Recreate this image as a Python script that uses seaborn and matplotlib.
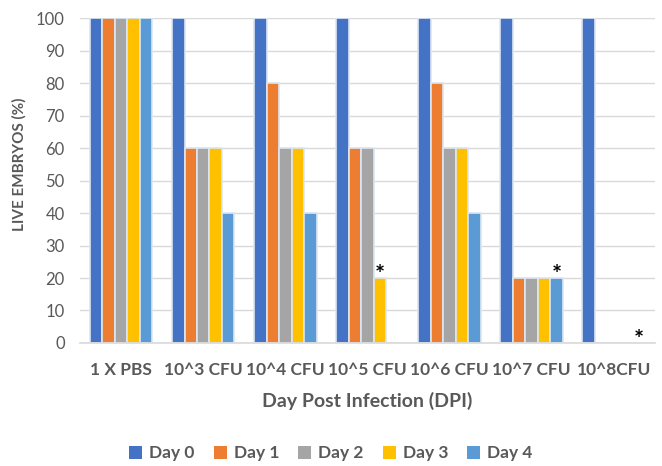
import matplotlib
matplotlib.use("Agg")
import matplotlib.pyplot as plt
import seaborn as sns
import pandas as pd

groups = ["1 X PBS", "10^3 CFU", "10^4 CFU", "10^5 CFU", "10^6 CFU", "10^7 CFU", "10^8CFU"]
days = ["Day 0", "Day 1", "Day 2", "Day 3", "Day 4"]
day0 = [100, 100, 100, 100, 100, 100, 100]
day1 = [100, 60, 80, 60, 80, 20, 0]
day2 = [100, 60, 60, 60, 60, 20, 0]
day3 = [100, 60, 60, 20, 60, 20, 0]
day4 = [100, 40, 40, 0, 40, 20, 0]
# significance marks: (group, day, height of mark)
stars = [("10^5 CFU", "Day 3", 20), ("10^7 CFU", "Day 4", 20), ("10^8CFU", "Day 4", 0)]

colors = ["#4472C4", "#ED7D31", "#A5A5A5", "#FFC000", "#5B9BD5"]

rows = []
for d, vals in zip(days, [day0, day1, day2, day3, day4]):
    for g, v in zip(groups, vals):
        rows.append({"group": g, "day": d, "value": v})
df = pd.DataFrame(rows)

sns.set_theme(style="white")
plt.rcParams["font.family"] = ["Lato", "DejaVu Sans"]
text_color = "#595959"

fig = plt.figure(figsize=(6.62, 4.66), dpi=100)
ax = fig.add_axes([0.121, 0.264, 0.868, 0.697])

sns.barplot(data=df, x="group", y="value", hue="day", order=groups, hue_order=days,
            palette=colors, width=0.76, saturation=1, ax=ax, legend=True,
            edgecolor="#dce6f2", linewidth=1.2)

ax.set_ylim(0, 100)
ax.set_xlim(-0.5, len(groups) - 0.5)
ax.set_yticks(range(0, 101, 10))
ax.yaxis.grid(True, color="#D9D9D9", linewidth=1)
ax.set_axisbelow(True)
for s in ["top", "right", "left"]:
    ax.spines[s].set_visible(False)
ax.spines["bottom"].set_color("#D9D9D9")
ax.spines["bottom"].set_linewidth(1.2)
ax.tick_params(axis="y", length=0, labelsize=12, labelcolor=text_color, pad=11)
ax.tick_params(axis="x", length=0, labelsize=12.5, labelcolor=text_color, pad=14)
for lbl in ax.get_xticklabels():
    lbl.set_fontweight("bold")

ax.set_ylabel("LIVE EMBRYOS (%)", fontsize=11, fontweight="bold", color=text_color)
ax.yaxis.set_label_coords(-0.093, 0.55)
ax.set_xlabel("Day Post Infection (DPI)", fontsize=14, fontweight="bold", color=text_color, labelpad=10)

step = 0.76 / len(days)
for g, d, h in stars:
    x = groups.index(g) - 0.38 + step * (days.index(d) + 0.5)
    ax.text(x, h - 1.4, "*", ha="center", va="baseline", fontsize=17, fontweight="bold", color="black")

handles, labels = ax.get_legend_handles_labels()
ax.legend(handles, labels, loc="center", bbox_to_anchor=(0.5, 0.027),
          bbox_transform=fig.transFigure, ncol=5,
          frameon=False, fontsize=12.5, handlelength=0.75, handleheight=0.75,
          columnspacing=1.1, handletextpad=0.4, labelcolor=text_color)
leg = ax.get_legend()
for t in leg.get_texts():
    t.set_fontweight("bold")
for p in leg.get_patches():
    p.set_edgecolor("none")

fig.savefig("out.png", dpi=100)
